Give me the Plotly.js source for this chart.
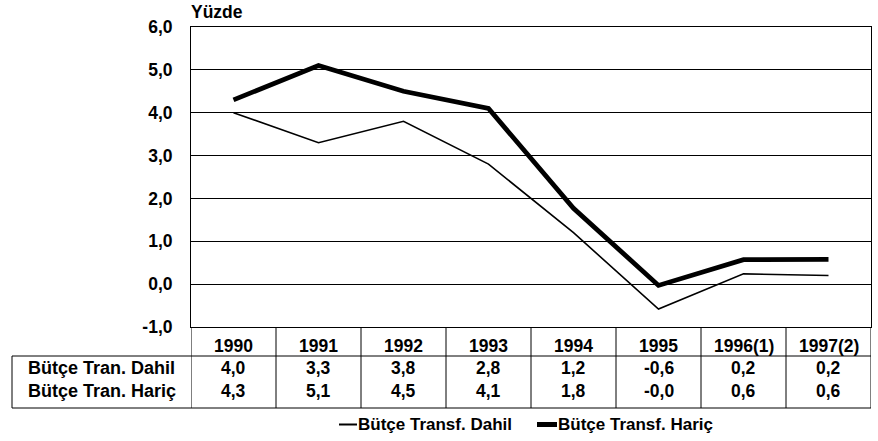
<!DOCTYPE html>
<html>
<head>
<meta charset="utf-8">
<script src="https://cdn.plot.ly/plotly-3.0.1.min.js"></script>
<style>html,body{margin:0;padding:0;background:#fff}#chart{width:878px;height:441px}</style>
</head>
<body>
<div id="chart"></div>
<script>
var years = ["1990", "1991", "1992", "1993", "1994", "1995", "1996(1)", "1997(2)"];
var dahil = [4.0, 3.3, 3.8, 2.8, 1.2, -0.58, 0.24, 0.2];
var haric = [4.3, 5.1, 4.5, 4.1, 1.77, -0.03, 0.57, 0.58];
var rowLabels = ["Bütçe Tran. Dahil", "Bütçe Tran. Hariç"];
var seriesNames = ["Bütçe Transf. Dahil", "Bütçe Transf. Hariç"];
var yTicks = [-1, 0, 1, 2, 3, 4, 5, 6];
var yTitle = "Yüzde";

var FONT = "Liberation Sans, Arial, sans-serif";
function fmt(v) { return v.toFixed(1).replace(".", ","); }
var widths = [1.6, 4.8];

var traces = [
  {x: years, y: dahil, type: "scatter", mode: "lines", name: seriesNames[0],
   line: {color: "#000", width: widths[0]}, showlegend: false},
  {x: years, y: haric, type: "scatter", mode: "lines", name: seriesNames[1],
   line: {color: "#000", width: widths[1]}, showlegend: false}
];

// plot area: 191..871 x 27..327 px
var L = 191, T = 27, W = 680, H = 300;
function px(p) { return (p - L) / W; }
function py(p) { return -(p - (T + H)) / H; }

var leftX = px(12);
var yHeadBottom = py(356);
var yBottom = py(408);
var rowY = [py(346), py(368), py(391)];

var shapes = [];
for (var i = 0; i <= years.length; i++) {
  shapes.push({type: "line", xref: "x", yref: "paper", x0: i - 0.5, x1: i - 0.5,
    y0: 0, y1: yBottom, line: {color: "#000", width: 1}});
}
shapes.push({type: "line", xref: "paper", yref: "paper", x0: leftX, x1: 1,
  y0: yHeadBottom, y1: yHeadBottom, line: {color: "#000", width: 1}});
shapes.push({type: "line", xref: "paper", yref: "paper", x0: leftX, x1: 1,
  y0: yBottom, y1: yBottom, line: {color: "#000", width: 1}});
shapes.push({type: "line", xref: "paper", yref: "paper", x0: leftX, x1: leftX,
  y0: yHeadBottom, y1: yBottom, line: {color: "#000", width: 1}});

var tf = {family: FONT, size: 17.5, color: "#000", weight: "bold"};
var rf = {family: FONT, size: 18, color: "#000", weight: "bold"};
var lf = {family: FONT, size: 17, color: "#000", weight: "bold"};
var annotations = [];
years.forEach(function (yr, i) {
  annotations.push({x: i, xref: "x", y: rowY[0], yref: "paper", text: "<b>" + yr + "</b>",
    showarrow: false, font: tf, xanchor: "center", yanchor: "middle"});
  annotations.push({x: i, xref: "x", y: rowY[1], yref: "paper", text: "<b>" + fmt(dahil[i]) + "</b>",
    showarrow: false, font: tf, xanchor: "center", yanchor: "middle"});
  annotations.push({x: i, xref: "x", y: rowY[2], yref: "paper", text: "<b>" + fmt(haric[i]) + "</b>",
    showarrow: false, font: tf, xanchor: "center", yanchor: "middle"});
});
[0, 1].forEach(function (k) {
  annotations.push({x: px((12 + 191) / 2), xref: "paper", y: rowY[k + 1], yref: "paper",
    text: "<b>" + rowLabels[k] + "</b>", showarrow: false, font: rf, xanchor: "center", yanchor: "middle"});
});
annotations.push({x: 0, xref: "paper", y: 1, yref: "paper", yshift: 3, text: "<b>" + yTitle + "</b>",
  showarrow: false, font: tf, xanchor: "left", yanchor: "bottom", xshift: -2});

// legend (symbol + text)
var legY = py(424.5);
var legSym = [[339, 357], [537, 557]];
var legText = [358, 558];
[0, 1].forEach(function (k) {
  shapes.push({type: "line", xref: "paper", yref: "paper", x0: px(legSym[k][0]), x1: px(legSym[k][1]),
    y0: legY, y1: legY, line: {color: "#000", width: k === 0 ? 2 : 5}});
  annotations.push({x: px(legText[k]), xref: "paper", y: legY, yref: "paper",
    text: "<b>" + seriesNames[k] + "</b>", showarrow: false, font: lf, xanchor: "left", yanchor: "middle",
    xshift: -2});
});

var layout = {
  width: 878, height: 441,
  margin: {l: 191, r: 7, t: 27, b: 114, pad: 0},
  paper_bgcolor: "#fff", plot_bgcolor: "#fff",
  showlegend: false,
  xaxis: {type: "category", range: [-0.5, years.length - 0.5], showticklabels: false,
    showgrid: false, zeroline: false, showline: true, mirror: true, linecolor: "#000", linewidth: 1,
    ticks: "", fixedrange: true},
  yaxis: {range: [-1, 6], tickmode: "array", tickvals: yTicks, ticktext: yTicks.map(fmt),
    showgrid: true, gridcolor: "#000",
    gridwidth: 1, zeroline: false, showline: true, mirror: true, linecolor: "#000", linewidth: 1,
    ticks: "", ticklabelstandoff: 14,
    tickfont: tf, fixedrange: true},
  shapes: shapes,
  annotations: annotations
};

Plotly.newPlot("chart", traces, layout, {displayModeBar: false, staticPlot: true});
</script>
</body>
</html>
